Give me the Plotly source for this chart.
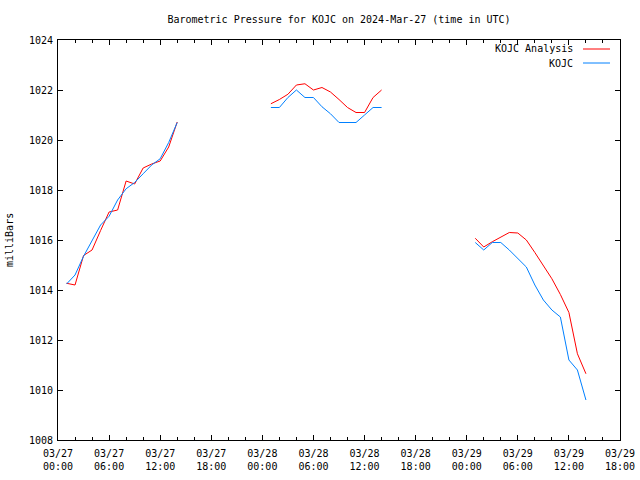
import plotly.graph_objects as go

# ---- data ----
days = ["2024-03-27", "2024-03-28", "2024-03-29"]
hours = list(range(1, 15))

analysis_27 = [1014.27, 1014.20, 1015.38, 1015.60, 1016.38, 1017.12, 1017.20, 1018.36, 1018.24, 1018.88, 1019.04, 1019.16, 1019.72, 1020.72]
analysis_28 = [1021.45, 1021.62, 1021.83, 1022.20, 1022.25, 1022.00, 1022.10, 1021.92, 1021.62, 1021.30, 1021.10, 1021.10, 1021.70, 1022.00]
analysis_29 = [1016.07, 1015.72, 1015.93, 1016.12, 1016.30, 1016.28, 1016.00, 1015.50, 1015.00, 1014.45, 1013.82, 1013.10, 1011.45, 1010.65]

obs_27 = [1014.24, 1014.60, 1015.35, 1016.00, 1016.60, 1016.95, 1017.60, 1018.05, 1018.30, 1018.65, 1019.00, 1019.25, 1019.90, 1020.70]
obs_28 = [1021.30, 1021.30, 1021.70, 1022.00, 1021.70, 1021.70, 1021.33, 1021.05, 1020.70, 1020.70, 1020.70, 1021.00, 1021.30, 1021.30]
obs_29 = [1015.90, 1015.60, 1015.90, 1015.90, 1015.60, 1015.25, 1014.92, 1014.20, 1013.60, 1013.20, 1012.92, 1011.20, 1010.80, 1009.60]

series_names = ["KOJC Analysis", "KOJC"]
series_colors = ["#ff0000", "#0080ff"]
title_text = "Barometric Pressure for KOJC on 2024-Mar-27 (time in UTC)"
y_title = "milliBars"


def build(segments):
    xs, ys = [], []
    for day, vals in zip(days, segments):
        for h, v in zip(hours, vals):
            xs.append(f"{day} {h:02d}:00")
            ys.append(v)
        xs.append(f"{day} {hours[-1]:02d}:30")
        ys.append(None)
    return xs, ys


FONT = "DejaVu Sans Mono"
fig = go.Figure()
for name, color, segs in zip(series_names, series_colors,
                             [[analysis_27, analysis_28, analysis_29],
                              [obs_27, obs_28, obs_29]]):
    x, y = build(segs)
    fig.add_trace(go.Scatter(x=x, y=y, mode="lines", name=name,
                             line=dict(color=color, width=1),
                             connectgaps=False, showlegend=False))

axis_common = dict(showline=True, linecolor="black", linewidth=1, mirror="allticks",
                   ticks="inside", ticklen=5, tickcolor="black", tickwidth=1,
                   showgrid=False, zeroline=False, automargin=False,
                   tickfont=dict(family=FONT, size=10, color="black"))

fig.update_layout(
    width=640, height=480,
    margin=dict(l=58, r=20, t=40, b=40, autoexpand=False),
    paper_bgcolor="white", plot_bgcolor="white",
    font=dict(family=FONT, size=10, color="black"),
    title=dict(text=title_text, x=0.5, xref="paper", y=1 - 19 / 480,
               yanchor="middle", xanchor="center",
               font=dict(family=FONT, size=10, color="black")),
    xaxis=dict(type="date", range=["2024-03-27 00:00", "2024-03-29 18:00"],
               tick0="2024-03-27 00:00", dtick=6 * 3600 * 1000,
               tickformat="%m/%d<br>%H:%M", ticklabelstandoff=4,
               minor=dict(dtick=2 * 3600 * 1000, ticks="inside", ticklen=3,
                          tickcolor="black", showgrid=False),
               **axis_common),
    yaxis=dict(range=[1008, 1024], dtick=2, tick0=1008, ticklabelstandoff=2,
               **axis_common),
)

# y-axis title
fig.add_annotation(text=y_title, textangle=-90, xref="paper", yref="paper",
                   x=(9 - 58) / 562, y=0.5, xanchor="center", yanchor="middle",
                   showarrow=False, font=dict(family=FONT, size=10, color="black"))

# key (gnuplot style: text right, sample line at right)
key_rows = [49, 63]
for name, color, ypx in zip(series_names, series_colors, key_rows):
    yp = (440 - ypx) / 400
    fig.add_annotation(text=name, xref="paper", yref="paper",
                       x=(575 - 58) / 562, y=yp, xanchor="right", yanchor="middle",
                       showarrow=False, font=dict(family=FONT, size=10, color="black"))
    fig.add_shape(type="line", xref="paper", yref="paper",
                  x0=(583 - 58) / 562, x1=(610 - 58) / 562, y0=yp, y1=yp,
                  line=dict(color=color, width=1))

fig.write_html("out.html")
